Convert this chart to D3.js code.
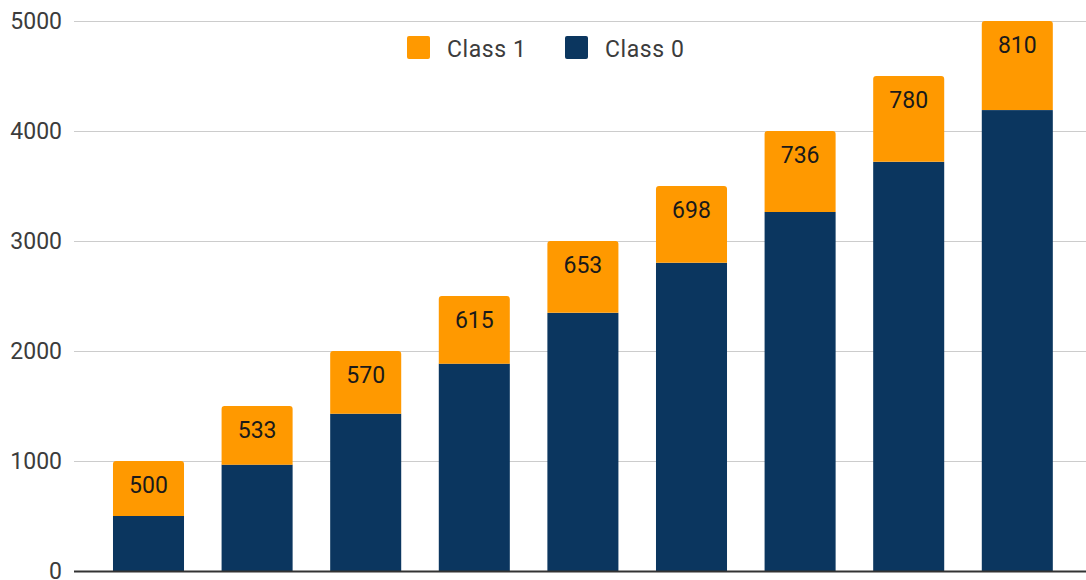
<!DOCTYPE html>
<html><head><meta charset="utf-8">
<script src="https://cdn.jsdelivr.net/npm/d3@7"></script>
<style>body{margin:0;background:#fff}svg{display:block;font-family:Roboto,Arial,sans-serif}</style>
</head><body>
<svg id="c" width="1086" height="580"></svg>
<script>
const categories = ["1","2","3","4","5","6","7","8","9"];
const class0 = [500, 967, 1430, 1885, 2347, 2802, 3264, 3720, 4190];
const class1 = [500, 533, 570, 615, 653, 698, 736, 780, 810];
const yTicks = [0, 1000, 2000, 3000, 4000, 5000];
const seriesNames = ["Class 1", "Class 0"];
const colors = {"Class 1": "#ff9900", "Class 0": "#0b365f"};

const svg = d3.select("#c");
const y = d3.scaleLinear().domain([0, 5000]).range([571, 21]);
const x = d3.scaleBand().domain(categories).range([94.2, 1071.6]).paddingInner(0.346).paddingOuter(0.173);
const FS = 23;

// grid
svg.append("g").selectAll("line").data(yTicks.filter(d => d > 0)).join("line")
  .attr("x1", 74).attr("x2", 1086)
  .attr("y1", d => Math.round(y(d)) + 0.5).attr("y2", d => Math.round(y(d)) + 0.5)
  .attr("stroke", "#cccccc").attr("stroke-width", 1);

// y labels
svg.append("g").selectAll("text").data(yTicks).join("text")
  .attr("x", 62).attr("y", d => y(d) + 7.5)
  .attr("text-anchor", "end").attr("font-size", FS).attr("fill", "#3c3c3c")
  .text(d => d);

const data = categories.map((c, i) => ({cat: c, c0: class0[i], c1: class1[i]}));

// class0 bars
svg.append("g").selectAll("rect").data(data).join("rect")
  .attr("x", d => x(d.cat)).attr("width", x.bandwidth())
  .attr("y", d => y(d.c0)).attr("height", d => y(0) - y(d.c0))
  .attr("fill", colors["Class 0"]);

// class1 bars with rounded top
svg.append("g").selectAll("path").data(data).join("path")
  .attr("d", d => {
    const x0 = x(d.cat), w = x.bandwidth(), yt = y(d.c0 + d.c1), yb = y(d.c0), r = 3;
    return `M${x0},${yb}V${yt + r}Q${x0},${yt} ${x0 + r},${yt}H${x0 + w - r}Q${x0 + w},${yt} ${x0 + w},${yt + r}V${yb}Z`;
  })
  .attr("fill", colors["Class 1"]);

// labels
svg.append("g").selectAll("text").data(data).join("text")
  .attr("x", d => x(d.cat) + x.bandwidth() / 2)
  .attr("y", d => y(d.c0 + d.c1) + 32)
  .attr("text-anchor", "middle").attr("font-size", FS).attr("fill", "#1a1a1a")
  .text(d => d.c1);

// baseline
svg.append("line").attr("x1", 74).attr("x2", 1086)
  .attr("y1", y(0) + 0.5).attr("y2", y(0) + 0.5)
  .attr("stroke", "#333").attr("stroke-width", 2);

// legend
const legX = [407, 565];
const leg = svg.append("g");
seriesNames.forEach((s, i) => {
  leg.append("rect").attr("x", legX[i]).attr("y", 36).attr("width", 23).attr("height", 23)
    .attr("rx", 2).attr("fill", colors[s]);
  leg.append("text").attr("x", legX[i] + 40).attr("y", 56.5).attr("font-size", FS)
    .attr("letter-spacing", 0.6).attr("fill", "#3c3c3c").text(s);
});
</script>
</body></html>
